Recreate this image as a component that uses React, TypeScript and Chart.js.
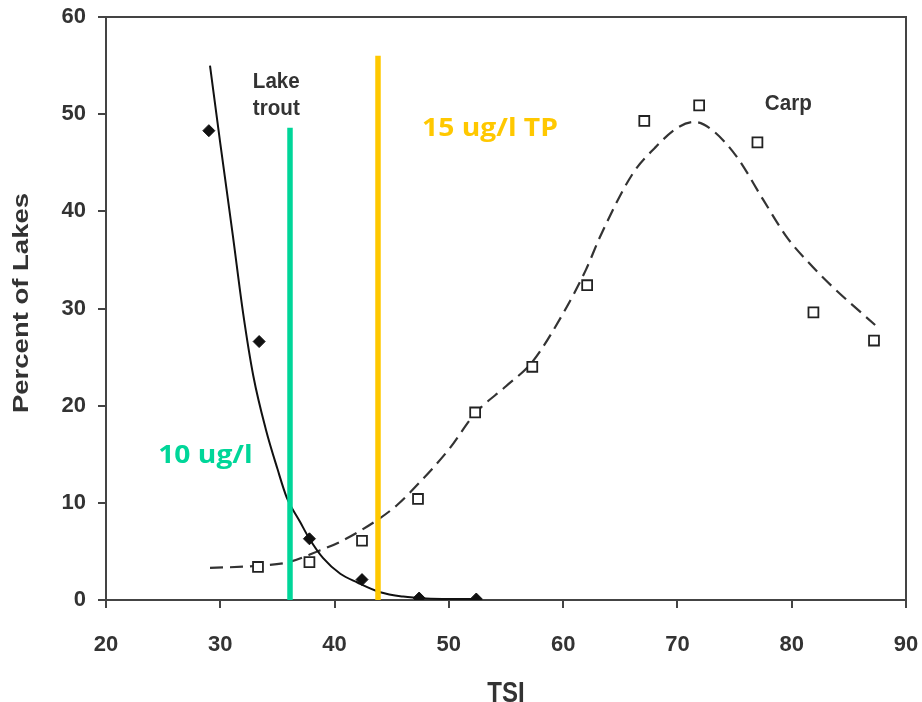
import React, { useEffect, useRef } from 'react';
import { Chart, registerables } from 'chart.js';

Chart.register(...registerables);

// Observed data points
const troutX = [29.0, 33.4, 37.8, 42.4, 47.4, 52.4];
const troutY = [48.3, 26.6, 6.3, 2.1, 0.2, 0.1];
const carpX = [33.3, 37.8, 42.4, 47.3, 52.3, 57.3, 62.1, 67.1, 71.9, 77.0, 81.9, 87.2];
const carpY = [3.4, 3.9, 6.1, 10.4, 19.3, 24.0, 32.4, 49.3, 50.9, 47.1, 29.6, 26.7];

// Fitted curves
const troutFitX = [29.1, 30, 31.1, 32, 32.9, 34, 35, 35.8, 37, 37.8, 39, 40.5, 42, 44, 46, 48, 50, 52.4];
const troutFitY = [55, 47, 37.5, 29.5, 23, 17.5, 13.5, 10.6, 8, 6.3, 4.3, 2.7, 1.8, 0.8, 0.35, 0.15, 0.1, 0.1];
const carpFitX = [29.1, 33, 36, 38.7, 40.5, 43.7, 45.5, 47.2, 50, 52.3, 55, 57.3, 60, 62, 63.2, 66.1, 68, 70, 71.5, 73, 75.2, 77.5, 79.6, 81.5, 83.6, 87.3];
const carpFitY = [3.3, 3.5, 3.9, 5.1, 6.0, 8.2, 9.8, 11.8, 15.5, 19.2, 22, 24.5, 29.5, 34, 37.3, 43.9, 46.5, 48.6, 49.2, 48.4, 45.6, 41.2, 37.3, 34.7, 32.2, 28.3];

// Threshold lines
const greenLineX = [36.1, 36.1];
const greenLineY = [0, 48.6];
const yellowLineX = [43.8, 43.8];
const yellowLineY = [0, 56];

const xTicks = [20, 30, 40, 50, 60, 70, 80, 90];
const yTicks = [0, 10, 20, 30, 40, 50, 60];

const GREEN = 'rgb(0, 214, 153)';
const YELLOW = 'rgb(255, 200, 0)';
const AXIS = '#444';
const TEXT = '#333';
const FONT = '"Liberation Sans", Arial, sans-serif';

const pts = (xs: number[], ys: number[]) => xs.map((x, i) => ({ x, y: ys[i] }));

function txt(ctx: CanvasRenderingContext2D, s: string, cx: number, cy: number, font: string, color: string, sx = 1, sy = 1, rot = 0) {
  ctx.save();
  ctx.translate(cx, cy);
  ctx.rotate(rot);
  ctx.scale(sx, sy);
  ctx.font = font;
  ctx.fillStyle = color;
  ctx.textAlign = 'center';
  ctx.textBaseline = 'middle';
  ctx.fillText(s, 0, 0);
  ctx.restore();
}

const overlay = {
  id: 'overlay',
  afterDraw(chart: any) {
    const { ctx, chartArea: a, scales } = chart;
    const x = scales.x;
    const y = scales.y;
    ctx.save();
    ctx.strokeStyle = AXIS;
    ctx.lineWidth = 2;
    ctx.beginPath();
    ctx.moveTo(a.left, a.top);
    ctx.lineTo(a.right, a.top);
    ctx.lineTo(a.right, a.bottom);
    ctx.stroke();
    ctx.restore();

    txt(ctx, 'Lake', x.getPixelForValue(34.9), y.getPixelForValue(53.3), `bold 20px ${FONT}`, TEXT, 1.03, 1.12);
    txt(ctx, 'trout', x.getPixelForValue(34.9), y.getPixelForValue(50.6), `bold 20px ${FONT}`, TEXT, 1.03, 1.12);
    txt(ctx, 'Carp', x.getPixelForValue(79.7), y.getPixelForValue(51.1), `bold 20px ${FONT}`, TEXT, 1.03, 1.12);
    txt(ctx, '15 ug/l TP', x.getPixelForValue(53.6), y.getPixelForValue(48.5), `bold 25px "Open Sans", sans-serif`, YELLOW, 1.13, 1);
    txt(ctx, '10 ug/l', x.getPixelForValue(28.7), y.getPixelForValue(14.8), `bold 25px "Open Sans", sans-serif`, GREEN, 1.13, 1);

    txt(ctx, 'Percent of Lakes', 22, 303, `bold 22px ${FONT}`, TEXT, 1.25, 1, -Math.PI / 2);
    txt(ctx, 'TSI', (a.left + a.right) / 2, 694, `bold 24px ${FONT}`, TEXT, 1, 1.2);
  },
};

export default function App() {
  const ref = useRef<HTMLCanvasElement | null>(null);
  useEffect(() => {
    if (!ref.current) return;
    const chart = new Chart(ref.current, {
      type: 'scatter',
      data: {
        datasets: [
          { data: pts(greenLineX, greenLineY), showLine: true, borderColor: GREEN, borderWidth: 5.5, pointRadius: 0 },
          { data: pts(yellowLineX, yellowLineY), showLine: true, borderColor: YELLOW, borderWidth: 5.5, pointRadius: 0 },
          { data: pts(troutX, troutY), showLine: false, pointStyle: 'rectRot', pointRadius: 6, backgroundColor: '#111', borderColor: '#111', borderWidth: 1 },
          { data: pts(carpX, carpY), showLine: false, pointStyle: 'rect', pointRadius: 7, backgroundColor: '#fff', borderColor: '#222', borderWidth: 1.8 },
          { data: pts(troutFitX, troutFitY), showLine: true, borderColor: '#111', borderWidth: 2, pointRadius: 0, cubicInterpolationMode: 'monotone' },
          { data: pts(carpFitX, carpFitY), showLine: true, borderColor: '#333', borderWidth: 2.2, borderDash: [13, 7], pointRadius: 0, cubicInterpolationMode: 'monotone' },
        ],
      },
      options: {
        animation: false,
        responsive: true,
        maintainAspectRatio: false,
        layout: { padding: { top: 17, right: 16, left: 0, bottom: 0 } },
        plugins: { legend: { display: false }, tooltip: { enabled: false } },
        scales: {
          x: {
            type: 'linear',
            min: 20,
            max: 90,
            afterBuildTicks: (s: any) => { s.ticks = xTicks.map((v) => ({ value: v })); },
            afterFit: (s: any) => { s.height = 102; s.paddingLeft = 0; s.paddingRight = 0; },
            ticks: { color: TEXT, font: { family: FONT, weight: 'bold', size: 22 }, padding: 24 },
            grid: { drawOnChartArea: false, drawTicks: true, tickLength: 8, color: AXIS, lineWidth: 2 },
            border: { display: true, color: AXIS, width: 2 },
          },
          y: {
            type: 'linear',
            min: 0,
            max: 60,
            afterBuildTicks: (s: any) => { s.ticks = yTicks.map((v) => ({ value: v })); },
            afterFit: (s: any) => { s.width = 106; s.paddingTop = 0; s.paddingBottom = 0; },
            ticks: { color: TEXT, font: { family: FONT, weight: 'bold', size: 22 }, padding: 12 },
            grid: { drawOnChartArea: false, drawTicks: true, tickLength: 8, color: AXIS, lineWidth: 2 },
            border: { display: true, color: AXIS, width: 2 },
          },
        },
      },
      plugins: [overlay],
    } as any);
    return () => chart.destroy();
  }, []);
  return (
    <div style={{ position: 'fixed', left: 0, top: 0, width: 922, height: 702, background: '#fff' }}>
      <canvas ref={ref} />
    </div>
  );
}
